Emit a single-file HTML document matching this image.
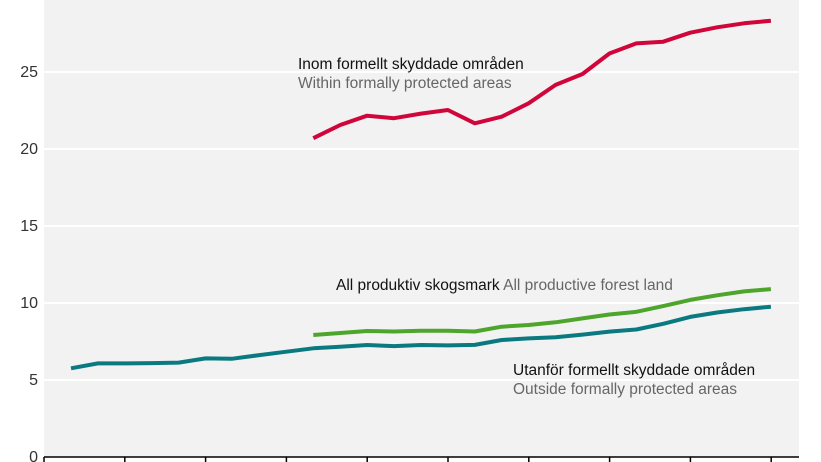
<!DOCTYPE html>
<html><head><meta charset="utf-8"><style>
html,body{margin:0;padding:0;background:#fff;}
svg{display:block;font-family:"Liberation Sans",sans-serif;}
</style></head><body>
<svg id="chart" width="821" height="462" viewBox="0 0 821 462" xmlns="http://www.w3.org/2000/svg">
<rect x="44" y="0" width="755" height="457" fill="#f2f2f2"/>
<g id="grid"></g><g id="yticks"></g><g id="series"></g>
<line x1="44" y1="457" x2="799" y2="457" stroke="#000" stroke-width="1.5"/>
<g id="xticks"></g>
<text x="298" y="69" font-size="15.5" fill="#111">Inom formellt skyddade områden</text>
<text x="298" y="88" font-size="15.5" fill="#666">Within formally protected areas</text>
<text x="336" y="290" font-size="15.5" fill="#111">All produktiv skogsmark <tspan fill="#666">All productive forest land</tspan></text>
<text x="513" y="375" font-size="15.5" fill="#111">Utanför formellt skyddade områden</text>
<text x="513" y="394" font-size="15.5" fill="#666">Outside formally protected areas</text>
</svg>
<script>
const outsideValues=[5.76,6.08,6.08,6.1,6.13,6.4,6.38,6.62,6.84,7.06,7.16,7.27,7.2,7.27,7.25,7.28,7.6,7.7,7.77,7.95,8.14,8.28,8.65,9.1,9.38,9.6,9.76];
const allForestValues=[7.92,8.05,8.18,8.15,8.2,8.2,8.15,8.46,8.57,8.75,9.0,9.25,9.43,9.8,10.2,10.5,10.75,10.9];
const protectedValues=[20.7,21.56,22.16,22.0,22.3,22.53,21.67,22.1,22.97,24.16,24.87,26.2,26.86,26.97,27.55,27.9,28.16,28.33];
const startIndex=9;
const yTicks=[0,5,10,15,20,25,30];
const xTickCount=10;
const NS="http://www.w3.org/2000/svg";
function xScale(i){return 71+i*26.92;}
function yScale(v){return 457-v*15.4;}
function mk(tag,attrs,parent){const e=document.createElementNS(NS,tag);for(const k in attrs)e.setAttribute(k,attrs[k]);parent.appendChild(e);return e;}
const grid=document.getElementById('grid'),yt=document.getElementById('yticks'),xt=document.getElementById('xticks'),ser=document.getElementById('series');
yTicks.forEach(v=>{
  if(v>0){const g=mk('line',{x1:44,x2:799,y1:yScale(v),y2:yScale(v),stroke:'#fff','stroke-width':2},grid);
  
  }
  const t=mk('text',{x:38,y:yScale(v)+5,'text-anchor':'end','font-size':16,fill:'#333'},yt);
  
  
  t.textContent=v;
});
for(let i=0;i<xTickCount;i++){
  const x=44+i*80.8;
  const l=mk('line',{x1:x,x2:x,y1:457,y2:463,stroke:'#000','stroke-width':1.5},xt);
  
  
}
function line(vals,off,color,name){
  const d=vals.map((v,i)=>(i?'L':'M')+xScale(i+off).toFixed(1)+' '+yScale(v).toFixed(1)).join(' ');
  const p=mk('path',{d:d,fill:'none',stroke:color,'stroke-width':4,'stroke-linejoin':'round'},ser);
  
  
}
line(outsideValues,0,'#0b7a80','line-outside-protected');
line(allForestValues,startIndex,'#4ea52c','line-all-productive-forest');
line(protectedValues,startIndex,'#d0053a','line-within-protected');
</script>
</body></html>
